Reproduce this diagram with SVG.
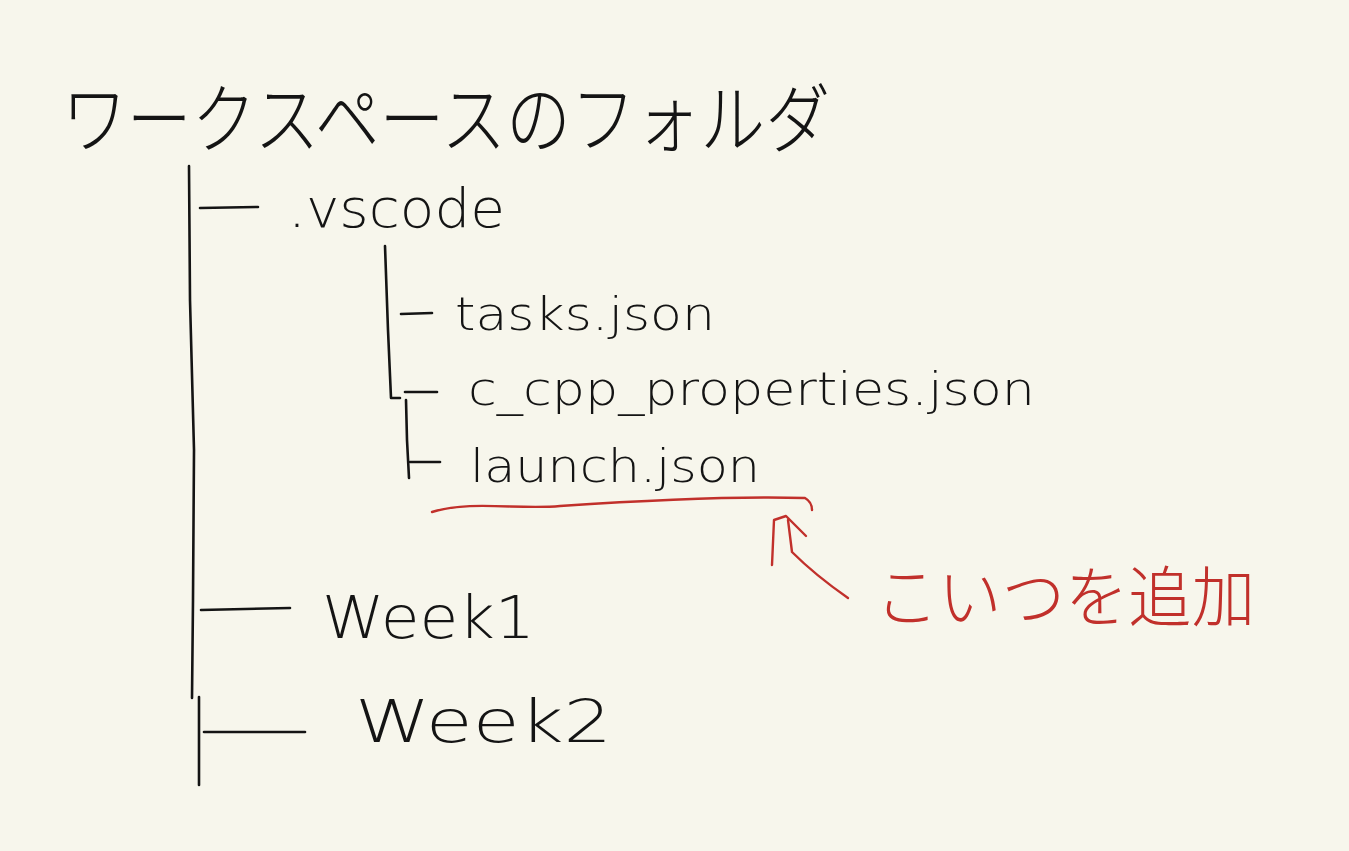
<svg xmlns="http://www.w3.org/2000/svg" width="1349" height="851" viewBox="0 0 1349 851">
<style>
.ink{fill:none;stroke:#141414;stroke-width:2.6;stroke-linecap:round;stroke-linejoin:round}
.red{fill:none;stroke:#c1302b;stroke-width:2.4;stroke-linecap:round;stroke-linejoin:round}
.t{font-family:"DejaVu Sans","Liberation Sans",sans-serif;font-weight:200;fill:#141414}
.jp{font-family:"Noto Sans CJK JP",sans-serif;font-weight:300;fill:#141414}
.jpr{font-family:"Noto Sans CJK JP",sans-serif;font-weight:300;fill:#c1302b}
</style>
<rect width="1349" height="851" fill="#f7f6ec"/>
<g id="connectors">
<path class="ink" d="M189 166 L190 300 L194 450 L193 600 L192 698"/>
<path class="ink" d="M199 697 L199 785"/>
<path class="ink" d="M200 208 L258 207"/>
<path class="ink" d="M385 246 L388 330 L391 398 L400 398"/>
<path class="ink" d="M406 400 L407 440 L409 478"/>
<path class="ink" d="M401 314 L432 313"/>
<path class="ink" d="M405 392 L437 392"/>
<path class="ink" d="M410 462 L440 462"/>
<path class="ink" d="M201 610 L290 608"/>
<path class="ink" d="M204 732 L305 732"/>
</g>
<g id="root">
<text class="jp" x="62" y="147" font-size="76" textLength="768" lengthAdjust="spacingAndGlyphs">ワークスペースのフォルダ</text>
</g>
<g id="vscode">
<text class="t" x="288" y="227" font-size="54" textLength="217" lengthAdjust="spacingAndGlyphs">.vscode</text>
</g>
<g id="tasks">
<text class="t" x="455" y="330" font-size="46" textLength="260" lengthAdjust="spacingAndGlyphs">tasks.json</text>
</g>
<g id="c_cpp_properties">
<text class="t" x="468" y="405" font-size="46" textLength="567" lengthAdjust="spacingAndGlyphs">c_cpp_properties.json</text>
</g>
<g id="launch">
<text class="t" x="470" y="482" font-size="46" textLength="290" lengthAdjust="spacingAndGlyphs">launch.json</text>
</g>
<g id="week1">
<text class="t" x="322" y="638" font-size="58" textLength="213" lengthAdjust="spacingAndGlyphs">Week1</text>
</g>
<g id="week2">
<text class="t" x="355" y="742" font-size="58" textLength="257" lengthAdjust="spacingAndGlyphs">Week2</text>
</g>
<g id="annotation">
<path class="red" d="M432 512 C470 500 520 510 560 506 C650 500 740 496 805 498 Q812 502 812 510"/>
<path class="red" d="M772 565 L774 520 L786 516 L806 536"/>
<path class="red" d="M788 520 L792 552 Q815 575 848 598"/>
<text class="jpr" x="875" y="621" font-size="66" textLength="380" lengthAdjust="spacingAndGlyphs">こいつを追加</text>
</g>
</svg>
